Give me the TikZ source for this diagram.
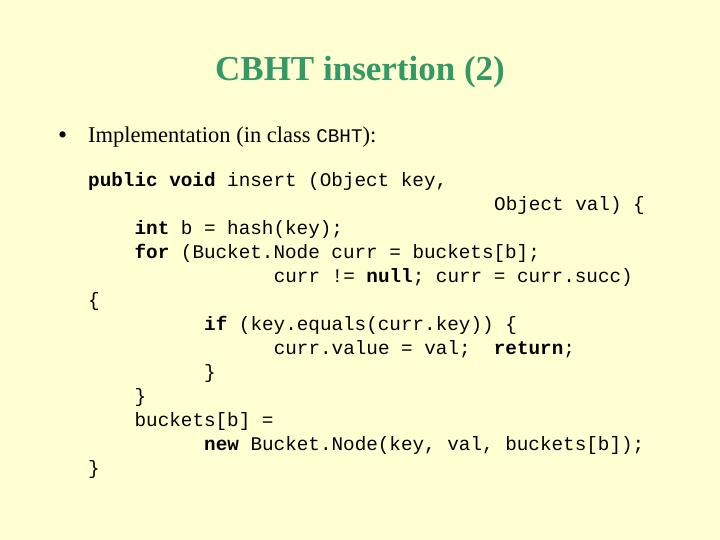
\documentclass[tikz,border=0pt]{standalone}
\usepackage{fontspec}
\setmainfont{Liberation Serif}
\setmonofont{Liberation Mono}
\definecolor{bg}{HTML}{FFFFD2}
\definecolor{ttl}{HTML}{339966}
\begin{document}
\begin{tikzpicture}[x=1pt,y=1pt,
  code/.style={anchor=base west,inner sep=0pt,font=\fontsize{19.3}{24}\ttfamily}]
\fill[bg] (0,0) rectangle (720,540);
\useasboundingbox (0,0) rectangle (720,540);
\node[anchor=base,inner sep=0pt,text=ttl,font=\fontsize{35}{38}\bfseries] (title) at (360,459) {CBHT insertion (2)};
\node[anchor=base west,inner sep=0pt,font=\fontsize{26}{26}\selectfont] (bul) at (58,396) {\textbullet};
\node[anchor=base west,inner sep=0pt,font=\fontsize{22.5}{26}\selectfont] (impl) at (88,397) {Implementation (in class \texttt{\fontsize{19.3}{24}\selectfont CBHT}):};
\def\cw{11.6}
\node[code] (l1) at (88,353) {\textbf{public}~\textbf{void}~insert~(Object~key,};
\node[code] (l2) at (88+35*\cw,329) {Object~val)~\{};
\node[code] (l3) at (88+4*\cw,305) {\textbf{int}~b~=~hash(key);};
\node[code] (l4) at (88+4*\cw,281) {\textbf{for}~(Bucket.Node~curr~=~buckets[b];};
\node[code] (l5) at (88+16*\cw,257) {curr~!=~\textbf{null};~curr~=~curr.succ)};
\node[code] (l6) at (88,233) {\{};
\node[code] (l7) at (88+10*\cw,209) {\textbf{if}~(key.equals(curr.key))~\{};
\node[code] (l8) at (88+16*\cw,185) {curr.value~=~val;~~\textbf{return};};
\node[code] (l9) at (88+10*\cw,161) {\}};
\node[code] (l10) at (88+4*\cw,137) {\}};
\node[code] (l11) at (88+4*\cw,113) {buckets[b]~=};
\node[code] (l12) at (88+10*\cw,89) {\textbf{new}~Bucket.Node(key,~val,~buckets[b]);};
\node[code] (l13) at (88,65) {\}};
\end{tikzpicture}
\end{document}
